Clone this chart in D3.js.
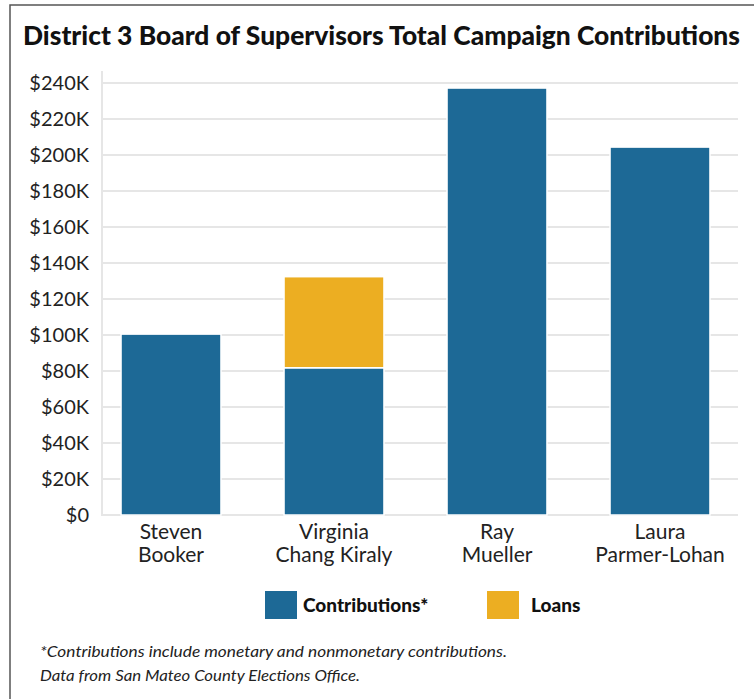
<!DOCTYPE html>
<html>
<head>
<meta charset="utf-8">
<script src="https://cdn.jsdelivr.net/npm/d3@7"></script>
<style>
  body { margin: 0; background: #fff; }
  text { font-family: Lato, "Open Sans", sans-serif; }
</style>
</head>
<body>
<script>
// data
var candidates = ["Steven Booker", "Virginia Chang Kiraly", "Ray Mueller", "Laura Parmer-Lohan"];
var labelLines = [["Steven", "Booker"], ["Virginia", "Chang Kiraly"], ["Ray", "Mueller"], ["Laura", "Parmer-Lohan"]];
var contributions = [100500, 81800, 237200, 204400];
var loans = [0, 50600, 0, 0];
var seriesNames = ["Contributions*", "Loans"];
var seriesColors = ["#1d6996", "#ecae22"];
var yTicks = [0, 20000, 40000, 60000, 80000, 100000, 120000, 140000, 160000, 180000, 200000, 220000, 240000];

var width = 754, height = 699;

var svg = d3.select("body").append("svg")
	.attr("width", width)
	.attr("height", height);

// frame
svg.append("rect")
	.attr("x", 10)
	.attr("y", 5)
	.attr("width", 800)
	.attr("height", 800)
	.attr("fill", "none")
	.style("stroke", "#555")
	.style("stroke-width", 1.5);

svg.append("text")
	.attr("x", 23)
	.attr("y", 45)
	.attr("textLength", 717)
	.attr("lengthAdjust", "spacingAndGlyphs")
	.style("font-size", "26px")
	.style("font-weight", "900")
	.attr("fill", "#111")
	.text("District 3 Board of Supervisors Total Campaign Contributions");

var x = d3.scaleBand()
	.domain(candidates)
	.range([89.5, 741.5])
	.paddingInner(0.387)
	.paddingOuter(0.1935);

var y = d3.scaleLinear()
	.domain([0, 240000])
	.range([515, 83]);

// grid
svg.append("g")
	.selectAll("line")
	.data(yTicks)
	.enter().append("line")
	.attr("x1", 101)
	.attr("x2", 738)
	.attr("y1", function(d) { return y(d); })
	.attr("y2", function(d) { return y(d); })
	.style("stroke", "#e6e6e6")
	.style("stroke-width", 2);

svg.append("line")
	.attr("x1", 102)
	.attr("x2", 102)
	.attr("y1", y(240000) - 12)
	.attr("y2", y(0))
	.style("stroke", "#e6e6e6")
	.style("stroke-width", 2);

// y axis labels
var yAxis = d3.axisLeft(y)
	.tickValues(yTicks)
	.tickSize(0)
	.tickPadding(0)
	.tickFormat(function(d) { return d === 0 ? "$0" : "$" + (d / 1000) + "K"; });

var yg = svg.append("g")
	.attr("transform", "translate(89,0)")
	.call(yAxis);
yg.select(".domain").remove();
yg.selectAll("text")
	.style("font-size", "20px")
	.style("font-family", "Lato, sans-serif")
	.attr("fill", "#222");

// stacked bars
var stackData = candidates.map(function(c, i) {
	return { name: c, contributions: contributions[i], loans: loans[i] };
});
var stack = d3.stack().keys(["contributions", "loans"]);
var layers = stack(stackData);

svg.append("g")
	.selectAll("g")
	.data(layers)
	.enter().append("g")
	.attr("fill", function(d, i) { return seriesColors[i]; })
	.selectAll("rect")
	.data(function(d) { return d.filter(function(p) { return p[1] > p[0]; }); })
	.enter().append("rect")
	.attr("x", function(d) { return x(d.data.name); })
	.attr("y", function(d) { return y(d[1]); })
	.attr("width", x.bandwidth())
	.attr("height", function(d) { return y(d[0]) - y(d[1]); })
	.style("stroke", "#fff")
	.style("stroke-width", 1.5);

// x labels
var xl = svg.append("g")
	.selectAll("text")
	.data(candidates)
	.enter().append("text")
	.attr("x", function(d) { return x(d) + x.bandwidth() / 2; })
	.attr("y", 539)
	.style("text-anchor", "middle")
	.style("font-size", "21px")
	.attr("fill", "#222");
xl.selectAll("tspan")
	.data(function(d, i) { return labelLines[i]; })
	.enter().append("tspan")
	.attr("x", function() { return d3.select(this.parentNode).attr("x"); })
	.attr("dy", function(d, i) { return i === 0 ? 0 : 23; })
	.text(function(d) { return d; });

// legend
var legendX = [265, 487];
var lg = svg.append("g")
	.selectAll("g")
	.data(seriesNames)
	.enter().append("g")
	.attr("transform", function(d, i) { return "translate(" + legendX[i] + ",591)"; });
lg.append("rect")
	.attr("width", 32)
	.attr("height", 28)
	.attr("fill", function(d, i) { return seriesColors[i]; });
lg.append("text")
	.attr("x", function(d, i) { return i === 0 ? 38 : 44; })
	.attr("y", 21)
	.style("font-size", "19px")
	.style("font-weight", "900")
	.attr("fill", "#111")
	.text(function(d) { return d; });

// notes
svg.append("text")
	.attr("x", 40)
	.attr("y", 657)
	.attr("textLength", 467)
	.attr("lengthAdjust", "spacingAndGlyphs")
	.style("font-size", "16px")
	.style("font-style", "italic")
	.attr("fill", "#222")
	.text("*Contributions include monetary and nonmonetary contributions.");

svg.append("text")
	.attr("x", 40)
	.attr("y", 681)
	.attr("textLength", 320)
	.attr("lengthAdjust", "spacingAndGlyphs")
	.style("font-size", "16px")
	.style("font-style", "italic")
	.attr("fill", "#222")
	.text("Data from San Mateo County Elections Office.");
</script>
</body>
</html>
